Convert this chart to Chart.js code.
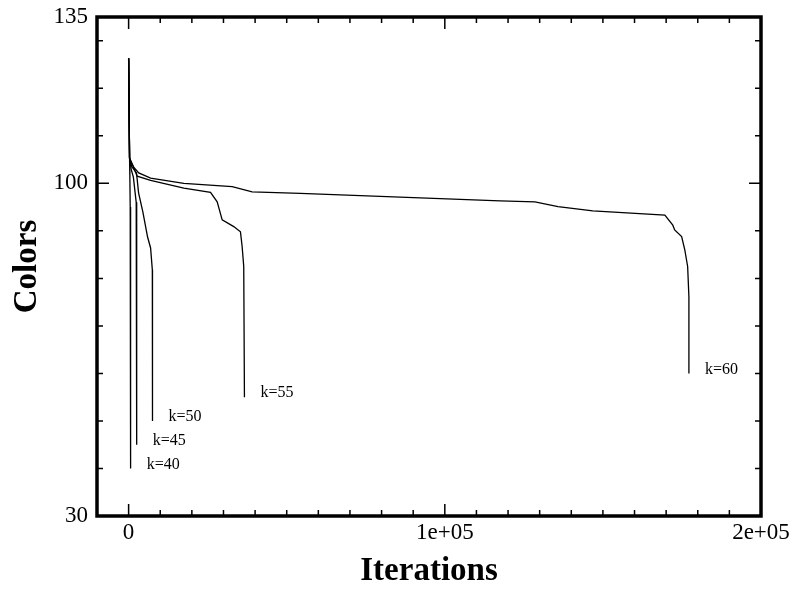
<!DOCTYPE html>
<html>
<head>
<meta charset="utf-8">
<script src="https://cdn.jsdelivr.net/npm/chart.js@4"></script>
<style>
    body { margin: 0; background: #fff; }
</style>
</head>
<body>
<canvas id="colorsChart" width="796" height="591"></canvas>
<script>
// iterations / colors for each run
const k40Iter = [0, 300, 400, 500, 600, 650];
const k40Colors = [126.3, 105.3, 101, 95, 80, 40];

const k45Iter = [0, 300, 800, 1500, 2400, 2550, 2550];
const k45Colors = [126.3, 105.3, 103, 101.3, 96, 85, 45];

const k50Iter = [0, 300, 1000, 2500, 3150, 4500, 6000, 6950, 7500, 7550, 7550];
const k50Colors = [126.3, 105.3, 103.5, 102.2, 98, 94, 88.7, 86.4, 81.8, 70, 50];

const k55Iter = [0, 300, 1500, 2700, 6950, 17460, 25900, 28010, 29590, 33250, 35370, 35900, 36410, 36630];
const k55Colors = [126.3, 105.3, 103.5, 101.5, 100.6, 99.0, 98.1, 96.1, 92.3, 90.9, 89.8, 86.7, 82.5, 55];

const k60Iter = [0, 300, 1600, 3200, 6950, 17460, 32750, 39060, 54300, 117500, 128500, 135800, 146800, 169600, 172100, 172700, 174900, 175900, 176800, 177200, 177200];
const k60Colors = [126.3, 105.3, 103.4, 102.2, 101.1, 100.0, 99.3, 98.2, 97.9, 96.3, 96.1, 95.1, 94.2, 93.3, 91.2, 90.2, 88.8, 86.0, 82.5, 76.1, 60];

const runLabels = ['k=40', 'k=45', 'k=50', 'k=55', 'k=60'];

const xTickValues = [0, 100000, 200000];
const xTickLabels = ['0', '1e+05', '2e+05'];
const xMinorTicks = [10000, 20000, 30000, 40000, 50000, 60000, 70000, 80000, 90000,
    110000, 120000, 130000, 140000, 150000, 160000, 170000, 180000, 190000];

const yTickValues = [30, 100, 135];
const yTickLabels = ['30', '100', '135'];
const yMinorTicks = [40, 50, 60, 70, 80, 90, 110, 120, 130];

const serif = "'Liberation Serif', 'Times New Roman', serif";

function toPoints(xs, ys) {
    return xs.map((x, i) => ({ x: x, y: ys[i] }));
}

const runs = [
    [k40Iter, k40Colors],
    [k45Iter, k45Colors],
    [k50Iter, k50Colors],
    [k55Iter, k55Colors],
    [k60Iter, k60Colors]
];

// frame + inward ticks on all four sides
const frameTicks = {
    id: 'frameTicks',
    afterDatasetsDraw(chart) {
        const ctx = chart.ctx;
        const a = chart.chartArea;
        const xs = chart.scales.x;
        const ys = chart.scales.y;
        ctx.save();
        ctx.strokeStyle = '#000';
        ctx.lineWidth = 1.5;
        ctx.beginPath();
        const tick = (list, len) => {
            list.forEach(v => {
                const px = xs.getPixelForValue(v);
                ctx.moveTo(px, a.bottom); ctx.lineTo(px, a.bottom - len);
                ctx.moveTo(px, a.top); ctx.lineTo(px, a.top + len);
            });
        };
        tick(xMinorTicks, 6);
        tick(xTickValues, 12);
        const ytick = (list, len) => {
            list.forEach(v => {
                const py = ys.getPixelForValue(v);
                ctx.moveTo(a.left, py); ctx.lineTo(a.left + len, py);
                ctx.moveTo(a.right, py); ctx.lineTo(a.right - len, py);
            });
        };
        ytick(yMinorTicks, 6);
        ytick(yTickValues, 12);
        ctx.stroke();
        ctx.lineWidth = 3.5;
        ctx.strokeRect(a.left, a.top, a.right - a.left, a.bottom - a.top);
        ctx.restore();
    }
};

// "k=.." label next to the end of each run
const runNames = {
    id: 'runNames',
    afterDatasetsDraw(chart) {
        const ctx = chart.ctx;
        ctx.save();
        ctx.fillStyle = '#000';
        ctx.font = '16px ' + serif;
        ctx.textAlign = 'left';
        ctx.textBaseline = 'middle';
        chart.data.datasets.forEach((ds, i) => {
            const meta = chart.getDatasetMeta(i);
            const last = meta.data[meta.data.length - 1];
            ctx.fillText(runLabels[i], last.x + 16, last.y - 4);
        });
        ctx.restore();
    }
};

const ctx = document.getElementById('colorsChart').getContext('2d');
new Chart(ctx, {
    type: 'scatter',
    data: {
        datasets: runs.map((r, i) => ({
            label: runLabels[i],
            data: toPoints(r[0], r[1]),
            showLine: true,
            borderColor: '#000',
            borderWidth: 1.3,
            pointRadius: 0,
            tension: 0
        }))
    },
    options: {
        responsive: false,
        animation: false,
        layout: {
            padding: { top: 17, right: 35, left: 0, bottom: 0 }
        },
        plugins: {
            legend: { display: false },
            tooltip: { enabled: false }
        },
        scales: {
            x: {
                type: 'linear',
                min: -10000,
                max: 200000,
                grid: { display: false, drawTicks: false },
                border: { display: false },
                afterBuildTicks: scale => {
                    scale.ticks = xTickValues.map(v => ({ value: v }));
                },
                afterFit: scale => {
                    scale.height = 75;
                    scale.paddingLeft = 0;
                    scale.paddingRight = 0;
                },
                ticks: {
                    color: '#000',
                    padding: 3,
                    maxRotation: 0,
                    font: { family: serif, size: 23 },
                    callback: (value, index) => xTickLabels[index]
                },
                title: {
                    display: true,
                    text: 'Iterations',
                    color: '#000',
                    padding: { top: 0, bottom: 0 },
                    font: { family: serif, size: 33, weight: 'bold' }
                }
            },
            y: {
                type: 'linear',
                min: 30,
                max: 135,
                grid: { display: false, drawTicks: false },
                border: { display: false },
                afterBuildTicks: scale => {
                    scale.ticks = yTickValues.map(v => ({ value: v }));
                },
                afterFit: scale => {
                    scale.width = 97;
                    scale.paddingTop = 0;
                    scale.paddingBottom = 0;
                },
                ticks: {
                    color: '#000',
                    padding: 9,
                    font: { family: serif, size: 23 },
                    callback: (value, index) => yTickLabels[index]
                },
                title: {
                    display: true,
                    text: 'Colors',
                    color: '#000',
                    padding: { top: 8, bottom: 0 },
                    font: { family: serif, size: 33, weight: 'bold' }
                }
            }
        }
    },
    plugins: [frameTicks, runNames]
});
</script>
</body>
</html>
